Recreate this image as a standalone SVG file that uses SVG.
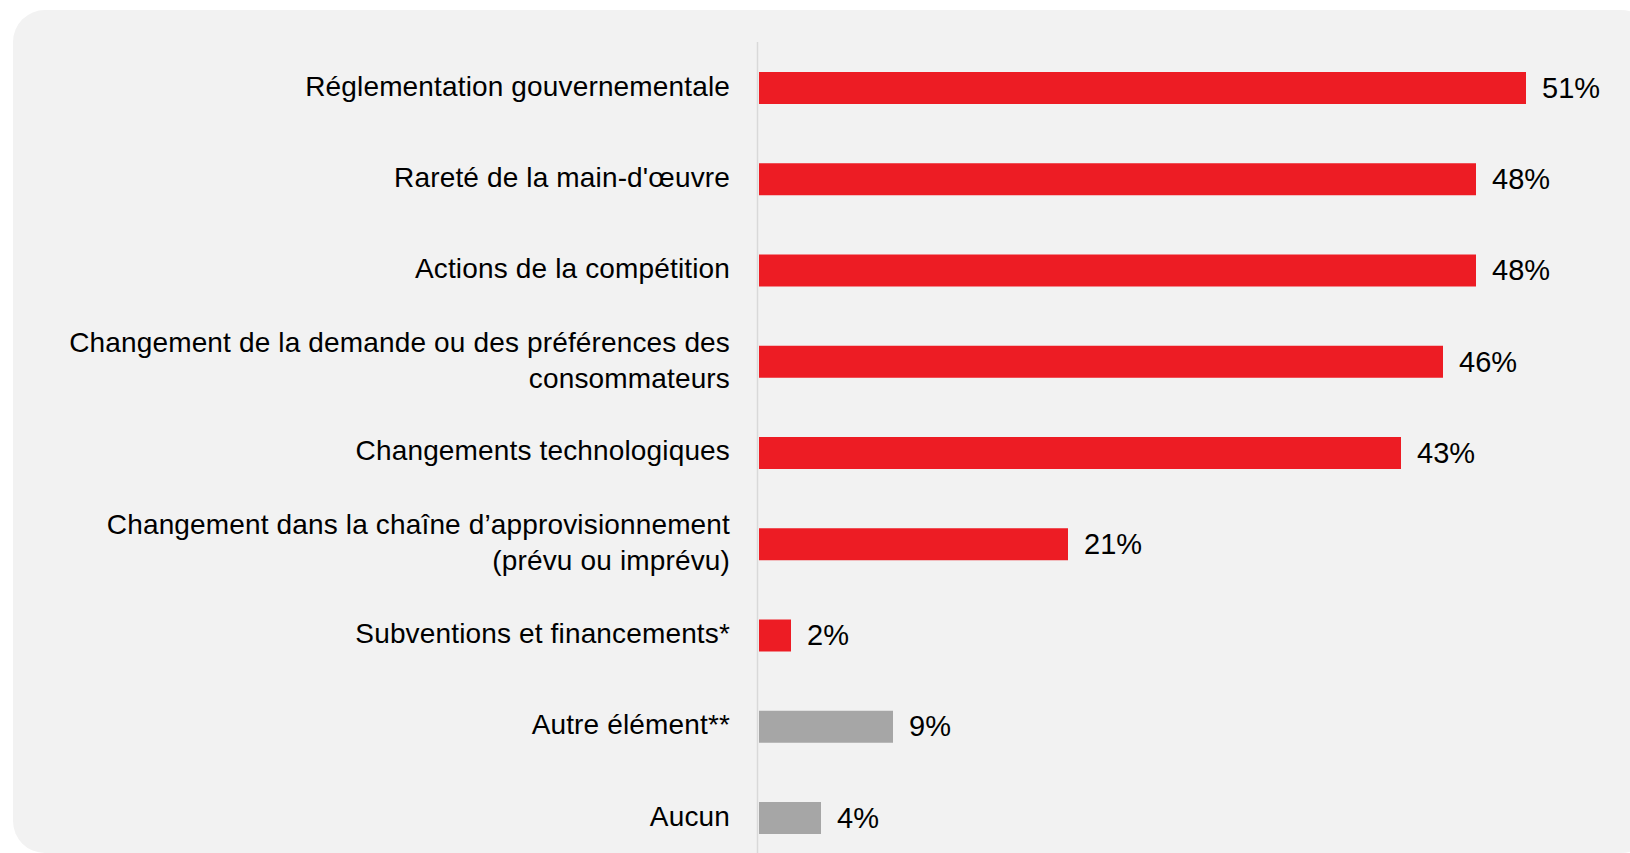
<svg xmlns="http://www.w3.org/2000/svg" width="1630" height="853" viewBox="0 0 1630 853">
<style>
.lbl{font-family:"Liberation Sans",Arial,sans-serif;font-size:28px;letter-spacing:0.15px;fill:#000;text-anchor:end}
.val{font-family:"Liberation Sans",Arial,sans-serif;font-size:29px;fill:#000}
.red{fill:#ED1C24}
.gray{fill:#A6A6A6}
</style>
<rect x="0" y="0" width="1630" height="853" fill="#ffffff"/>
<rect id="panel" x="13" y="10" width="1640" height="843" rx="32" ry="32" fill="#F2F2F2"/>
<g id="connectors">
<line x1="757.5" y1="42" x2="757.5" y2="853" stroke="#D9D9D9" stroke-width="1.5"/>
</g>
<g id="row1"><text class="lbl" x="730" y="96">Réglementation gouvernementale</text><rect class="red" x="759" y="72" width="767" height="32"/><text class="val" x="1542" y="98">51%</text></g>
<g id="row2"><text class="lbl" x="730" y="187">Rareté de la main-d'œuvre</text><rect class="red" x="759" y="163.25" width="717" height="32"/><text class="val" x="1492" y="189">48%</text></g>
<g id="row3"><text class="lbl" x="730" y="278">Actions de la compétition</text><rect class="red" x="759" y="254.5" width="717" height="32"/><text class="val" x="1492" y="280">48%</text></g>
<g id="row4"><text class="lbl" x="730" y="352">Changement de la demande ou des préférences des</text><text class="lbl" x="730" y="388">consommateurs</text><rect class="red" x="759" y="345.75" width="684" height="32"/><text class="val" x="1459" y="372">46%</text></g>
<g id="row5"><text class="lbl" x="730" y="460">Changements technologiques</text><rect class="red" x="759" y="437" width="642" height="32"/><text class="val" x="1417" y="463">43%</text></g>
<g id="row6"><text class="lbl" x="730" y="534">Changement dans la chaîne d’approvisionnement</text><text class="lbl" x="730" y="570">(prévu ou imprévu)</text><rect class="red" x="759" y="528.25" width="309" height="32"/><text class="val" x="1084" y="554">21%</text></g>
<g id="row7"><text class="lbl" x="730" y="643">Subventions et financements*</text><rect class="red" x="759" y="619.5" width="32" height="32"/><text class="val" x="807" y="645">2%</text></g>
<g id="row8"><text class="lbl" x="730" y="734">Autre élément**</text><rect class="gray" x="759" y="710.75" width="134" height="32"/><text class="val" x="909" y="736">9%</text></g>
<g id="row9"><text class="lbl" x="730" y="826">Aucun</text><rect class="gray" x="759" y="802" width="62" height="32"/><text class="val" x="837" y="828">4%</text></g>
</svg>
